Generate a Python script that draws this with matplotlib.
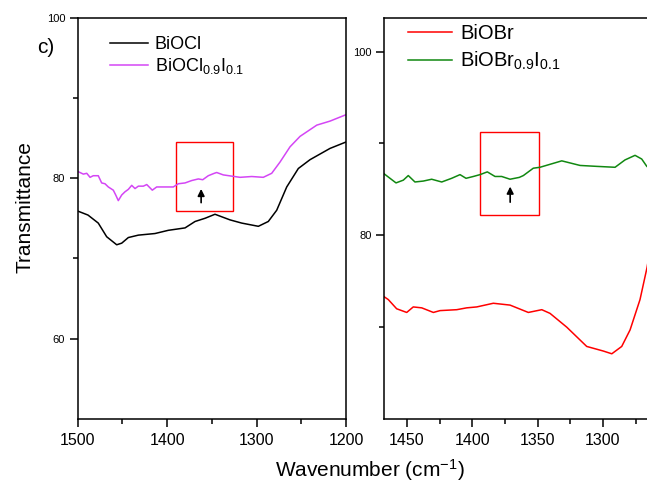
import matplotlib
matplotlib.use("Agg")
import matplotlib.pyplot as plt
from matplotlib.patches import Rectangle

plt.rcParams['font.family'] = ['Liberation Sans', 'DejaVu Sans']
plt.rcParams['mathtext.fontset'] = 'custom'
plt.rcParams['mathtext.rm'] = 'Liberation Sans'
plt.rcParams['mathtext.default'] = 'regular'

# BiOCl panel (left)
wn_ocl = [1500, 1488.5, 1477, 1467.6, 1456.4, 1450.8, 1443.4, 1432.2, 1413.6, 1398.7,
          1380, 1368.8, 1357.6, 1346.5, 1329.7, 1316.6, 1298, 1286.9, 1277.5, 1266.3,
          1253.3, 1240.2, 1217.9, 1200]
t_ocl = [75.9, 75.4, 74.4, 72.7, 71.7, 71.9, 72.6, 72.9, 73.1, 73.5,
         73.8, 74.6, 75.0, 75.5, 74.8, 74.4, 74.0, 74.6, 76.0, 78.9,
         81.2, 82.3, 83.7, 84.5]

wn_ocl_i = [1499.3, 1493.7, 1489.9, 1486.2, 1482.6, 1477, 1473.2, 1469.5, 1465.8, 1460.2,
            1457.5, 1454.6, 1450.8, 1447.1, 1443.4, 1439.6, 1435.9, 1432.2, 1426.6, 1422.8,
            1416.6, 1411.7, 1402.4, 1393.1, 1387.5, 1380, 1372.5, 1365.1, 1360.2, 1354,
            1347.3, 1344.6, 1337.2, 1318.5, 1305.4, 1292.5, 1283.1, 1273.8, 1262.6, 1251.4,
            1232.7, 1217.9, 1200]
t_ocl_i = [80.8, 80.5, 80.6, 80.1, 80.3, 80.3, 79.4, 79.3, 78.9, 78.5,
           77.9, 77.2, 77.9, 78.3, 78.6, 79.1, 78.7, 79.0, 79.0, 79.2,
           78.5, 78.9, 78.9, 78.9, 79.3, 79.4, 79.7, 79.9, 79.8, 80.3,
           80.6, 80.7, 80.4, 80.1, 80.2, 80.1, 80.6, 82.0, 83.9, 85.2,
           86.6, 87.1, 87.9]

# BiOBr panel (right)
wn_obr = [1467.4, 1464.3, 1457.9, 1450.2, 1445.2, 1438.7, 1429.8, 1424.7, 1411.9, 1404.3,
          1396.6, 1383.9, 1371.1, 1357.1, 1346.8, 1340.5, 1327.7, 1312.4, 1299.7, 1293.2,
          1285.6, 1279.2, 1271.6, 1266.2, 1262]
t_obr = [73.3, 73.0, 72.0, 71.6, 72.2, 72.1, 71.6, 71.8, 71.9, 72.1,
         72.2, 72.6, 72.4, 71.6, 71.9, 71.5, 70.0, 67.9, 67.4, 67.1,
         67.9, 69.7, 73.0, 76.5, 80.0]

wn_obr_i = [1467.6, 1463, 1458.4, 1452.8, 1449, 1443.9, 1437.5, 1431.1, 1423.4, 1415.8,
            1409.4, 1404.8, 1399.2, 1394.1, 1388.5, 1382.6, 1377.5, 1371.1, 1364, 1360.9,
            1353.3, 1348.2, 1331.5, 1317.5, 1304.8, 1290.7, 1283.1, 1275.4, 1270.3, 1266.4,
            1262]
t_obr_i = [86.7, 86.2, 85.7, 86.0, 86.5, 85.8, 85.9, 86.1, 85.8, 86.2,
           86.6, 86.2, 86.4, 86.6, 86.9, 86.4, 86.4, 86.1, 86.3, 86.5,
           87.3, 87.4, 88.1, 87.6, 87.5, 87.4, 88.2, 88.7, 88.3, 87.5,
           87.0]

fig = plt.figure(figsize=(6.47, 4.91), dpi=100)
ax1 = fig.add_axes([0.1201, 0.1466, 0.4147, 0.8177])
ax2 = fig.add_axes([0.5935, 0.1466, 0.4393, 0.8177])

ax1.plot(wn_ocl, t_ocl, color='black', lw=1.1, label='BiOCl')
ax1.plot(wn_ocl_i, t_ocl_i, color='#D446F5', lw=1.1, label='BiOCl$_{0.9}$I$_{0.1}$')
ax1.set_xlim(1500, 1200)
ax1.set_ylim(50, 100)
ax1.set_xticks([1500, 1400, 1300, 1200])
ax1.set_xticks([1450, 1350, 1250], minor=True)
ax1.set_yticks([60, 80, 100])
ax1.set_yticks([70, 90], minor=True)
ax1.add_patch(Rectangle((1326, 75.9), 64, 8.6, fill=False, ec='red', lw=1))
ax1.annotate('', xy=(1362, 79.0), xytext=(1362, 76.6),
             arrowprops=dict(arrowstyle='-|>', color='black', lw=1.2, mutation_scale=10))
ax1.legend(loc='upper left', bbox_to_anchor=(0.119, 0.953), frameon=False, fontsize=13,
           handlelength=2.1, handletextpad=0.4, labelspacing=0.15, borderpad=0, borderaxespad=0)

ax2.plot(wn_obr, t_obr, color='red', lw=1.1, label='BiOBr')
ax2.plot(wn_obr_i, t_obr_i, color='#118811', lw=1.1, label='BiOBr$_{0.9}$I$_{0.1}$')
ax2.set_xlim(1467.6, 1250)
ax2.set_ylim(60, 103.7)
ax2.set_xticks([1450, 1400, 1350, 1300])
ax2.set_xticks([1425, 1375, 1325, 1275], minor=True)
ax2.set_yticks([80, 100])
ax2.set_yticks([70, 90], minor=True)
ax2.add_patch(Rectangle((1348.7, 82.2), 45.2, 9.0, fill=False, ec='red', lw=1))
ax2.annotate('', xy=(1371, 85.6), xytext=(1371, 83.3),
             arrowprops=dict(arrowstyle='-|>', color='black', lw=1.2, mutation_scale=10))
ax2.legend(loc='upper left', bbox_to_anchor=(0.084, 0.985), frameon=False, fontsize=14.5,
           handlelength=2.2, handletextpad=0.4, labelspacing=0.35, borderpad=0, borderaxespad=0)

for ax in (ax1, ax2):
    for sp in ax.spines.values():
        sp.set_linewidth(1.1)
    ax.tick_params(axis='x', which='major', direction='out', length=6, width=1.1,
                   labelsize=11.5, pad=4)
    ax.tick_params(axis='x', which='minor', direction='out', length=3.5, width=1.1)
    ax.tick_params(axis='y', which='major', direction='out', length=6, width=1.1,
                   labelsize=8, pad=3)
    ax.tick_params(axis='y', which='minor', direction='out', length=3.5, width=1.1)

fig.text(0.057, 0.904, 'c)', fontsize=15, ha='left', va='center')
fig.text(0.038, 1 - 207 / 491, 'Transmittance', fontsize=15, rotation=90,
         ha='center', va='center')
fig.text(370 / 647, 1 - 470 / 491, 'Wavenumber (cm$^{-1}$)', fontsize=15,
         ha='center', va='center')

fig.savefig('out.png', dpi=100)
